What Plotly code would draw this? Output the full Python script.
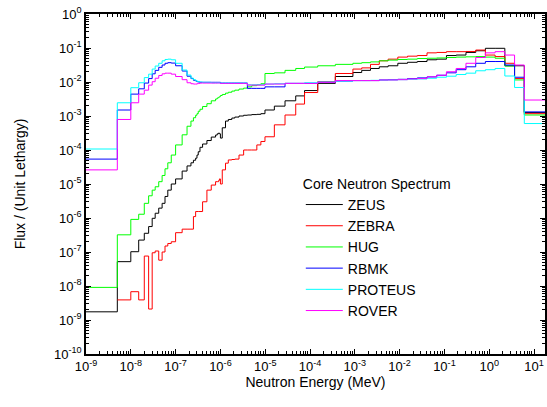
import plotly.graph_objects as go

# Energy group boundaries (MeV)
energy_edges = [1e-9, 5e-9, 1e-8, 1.5e-8, 2e-8, 2.5e-8, 3e-8, 3.5e-8, 4.2e-8, 5e-8,
                5.8e-8, 6.7e-8, 8e-8, 1e-7, 1.4e-7, 1.8e-7, 2.2e-7, 2.5e-7, 2.8e-7, 3e-7,
                3.2e-7, 3.5e-7, 4e-7, 5e-7, 6.25e-7, 7.8e-7, 8.5e-7, 9.1e-7, 9.5e-7, 1e-6,
                1.1e-6, 1.3e-6, 1.5e-6, 1.8e-6, 2.1e-6, 2.6e-6, 3.3e-6, 4e-6, 5e-6, 6.5e-6,
                8e-6, 9.877e-6, 1.6e-5, 2.77e-5, 4.8e-5, 7.55e-5, 1.487e-4, 3.673e-4, 9.069e-4, 1.425e-3,
                2.24e-3, 3.52e-3, 5.53e-3, 9.118e-3, 1.5e-2, 2.48e-2, 4.09e-2, 6.73e-2, 0.111, 0.183,
                0.3025, 0.5, 0.821, 1.353, 2.231, 3.679, 6.0655, 20.0]

zeus = [1.74e-9, 5.2e-8, 1.02e-7, 2.24e-7, 3.55e-7, 5.6e-7, 9.8e-7, 1.38e-6, 1.95e-6, 2.7e-6,
        4.3e-6, 6.6e-6, 1.0e-5, 1.41e-5, 2.4e-5, 3.4e-5, 4.2e-5, 5.0e-5, 5.75e-5, 7.1e-5,
        8.9e-5, 1.2e-4, 1.5e-4, 1.9e-4, 2.4e-4, 2.75e-4, 3.0e-4, 3.16e-4, 3.0e-4, 2.24e-4,
        4.5e-4, 7.1e-4, 7.9e-4, 8.7e-4, 9.3e-4, 1.0e-3, 1.05e-3, 1.07e-3, 1.1e-3, 1.12e-3,
        1.17e-3, 1.5e-3, 1.95e-3, 2.8e-3, 3.9e-3, 5.6e-3, 9.1e-3, 1.45e-2, 1.9e-2, 2.2e-2,
        2.5e-2, 2.8e-2, 3.0e-2, 3.55e-2, 3.8e-2, 4.0e-2, 4.5e-2, 4.7e-2, 6.0e-2, 6.2e-2,
        7.4e-2, 8.3e-2, 9.8e-2, 9.8e-2, 3.0e-2, 3.0e-2, 1.26e-3]

zebra = [None, 3.9e-9, 6.8e-9, 3.9e-9, 7.6e-8, 2.1e-9, 9.5e-8, 1.07e-7, 5.75e-8, 1.0e-7,
         1.5e-7, 1.78e-7, 2.0e-7, 3.7e-7, 4.7e-7, 4.7e-7, 4.7e-7, 1.1e-6, 1.55e-6, 1.55e-6,
         1.55e-6, 1.55e-6, 3.0e-6, 6.6e-6, 9.3e-6, 1.17e-5, 1.17e-5, 1.26e-5, 1.41e-5, 1.0e-5,
         2.6e-5, 4.1e-5, 5.1e-5, 5.25e-5, 5.4e-5, 7.1e-5, 1.0e-4, 1.0e-4, 1.0e-4, 1.41e-4,
         1.78e-4, 2.45e-4, 5.5e-4, 1.07e-3, 2.24e-3, 4.9e-3, 1.02e-2, 1.78e-2, 2.4e-2, 2.6e-2,
         3.3e-2, 4.2e-2, 4.7e-2, 5.4e-2, 5.75e-2, 6.0e-2, 7.2e-2, 7.4e-2, 7.8e-2, 7.8e-2,
         7.9e-2, 8.7e-2, 6.2e-2, 5.6e-2, 3.55e-2, 1.26e-2, 1.17e-3]

hug = [9.1e-9, 3.2e-7, 9.1e-7, 1.29e-6, 2.7e-6, 4.5e-6, 6.6e-6, 8.3e-6, 1.17e-5, 1.78e-5,
       2.8e-5, 4.2e-5, 7.1e-5, 1.41e-4, 2.8e-4, 5.0e-4, 7.1e-4, 8.9e-4, 1.05e-3, 1.17e-3,
       1.38e-3, 1.58e-3, 1.9e-3, 2.3e-3, 2.8e-3, 3.16e-3, 3.4e-3, 3.55e-3, 3.7e-3, 4.0e-3,
       4.3e-3, 4.7e-3, 5.0e-3, 5.4e-3, 5.75e-3, 6.2e-3, 6.6e-3, 7.2e-3, 7.8e-3, 8.3e-3,
       8.9e-3, 1.78e-2, 1.86e-2, 2.2e-2, 2.5e-2, 2.75e-2, 3.0e-2, 3.3e-2, 3.55e-2, 3.7e-2,
       3.9e-2, 4.2e-2, 4.4e-2, 4.6e-2, 4.7e-2, 4.9e-2, 5.0e-2, 5.1e-2, 5.25e-2, 5.4e-2,
       5.5e-2, 5.6e-2, 5.4e-2, 5.0e-2, 2.95e-2, 1.15e-2, 1.07e-3]

rbmk = [5.4e-5, 1.5e-3, 4.4e-3, 6.3e-3, 9.3e-3, 1.26e-2, 1.74e-2, 2.2e-2, 2.7e-2, 3.16e-2,
        3.55e-2, 3.7e-2, 3.6e-2, 3.0e-2, 2.1e-2, 1.48e-2, 1.26e-2, 1.12e-2, 1.07e-2, 1.02e-2,
        1.0e-2, 9.8e-3, 9.8e-3, 9.8e-3, 9.8e-3, 9.8e-3, 9.8e-3, 9.8e-3, 9.8e-3, 9.3e-3,
        9.3e-3, 9.3e-3, 9.3e-3, 9.3e-3, 9.3e-3, 9.3e-3, 9.3e-3, 6.5e-3, 6.5e-3, 6.5e-3,
        6.5e-3, 7.2e-3, 7.2e-3, 9.1e-3, 9.1e-3, 9.1e-3, 9.8e-3, 1.07e-2, 1.1e-2, 1.1e-2,
        1.1e-2, 1.15e-2, 1.17e-2, 1.2e-2, 1.26e-2, 1.32e-2, 1.41e-2, 1.58e-2, 1.86e-2, 2.3e-2,
        2.8e-2, 3.55e-2, 4.0e-2, 4.0e-2, 3.16e-2, 1.38e-2, 1.32e-3]

proteus = [1.07e-4, 2.45e-3, 6.8e-3, 9.5e-3, 1.35e-2, 1.7e-2, 2.4e-2, 2.95e-2, 3.55e-2, 4.2e-2,
           4.6e-2, 4.7e-2, 4.5e-2, 3.55e-2, 2.25e-2, 1.6e-2, 1.3e-2, 1.17e-2, 1.1e-2, 1.05e-2,
           1.02e-2, 1.0e-2, 9.8e-3, 9.8e-3, 9.5e-3, 9.5e-3, 9.5e-3, 9.5e-3, 9.5e-3, 9.3e-3,
           9.3e-3, 9.3e-3, 9.3e-3, 9.3e-3, 9.3e-3, 9.3e-3, 9.3e-3, 8.3e-3, 8.3e-3, 8.3e-3,
           8.3e-3, 8.7e-3, 8.9e-3, 9.1e-3, 9.1e-3, 9.5e-3, 1.0e-2, 1.07e-2, 1.1e-2, 1.1e-2,
           1.12e-2, 1.15e-2, 1.15e-2, 1.17e-2, 1.2e-2, 1.23e-2, 1.29e-2, 1.38e-2, 1.48e-2, 1.66e-2,
           1.82e-2, 2.14e-2, 2.3e-2, 2.5e-2, 1.5e-2, 6.9e-3, 6.0e-4]

rover = [2.6e-5, 7.9e-4, 2.45e-3, 4.4e-3, 5.75e-3, 8.1e-3, 1.02e-2, 1.29e-2, 1.55e-2, 1.74e-2,
         1.82e-2, 1.82e-2, 1.7e-2, 1.45e-2, 1.17e-2, 9.5e-3, 8.9e-3, 8.7e-3, 8.7e-3, 8.9e-3,
         9.1e-3, 9.3e-3, 9.3e-3, 9.3e-3, 9.3e-3, 9.3e-3, 9.3e-3, 9.3e-3, 9.3e-3, 9.1e-3,
         9.1e-3, 9.1e-3, 9.1e-3, 9.1e-3, 9.1e-3, 9.1e-3, 9.1e-3, 8.1e-3, 8.1e-3, 8.1e-3,
         8.1e-3, 8.7e-3, 8.7e-3, 9.1e-3, 9.1e-3, 9.1e-3, 9.8e-3, 1.1e-2, 1.1e-2, 1.1e-2,
         1.1e-2, 1.15e-2, 1.15e-2, 1.17e-2, 1.23e-2, 1.26e-2, 1.41e-2, 1.58e-2, 2.0e-2, 2.5e-2,
         3.55e-2, 5.25e-2, 7.2e-2, 7.8e-2, 6.2e-2, 3.16e-2, 2.95e-3]

series_names = ["ZEUS", "ZEBRA", "HUG", "RBMK", "PROTEUS", "ROVER"]
series_values = [zeus, zebra, hug, rbmk, proteus, rover]
series_colors = ["#000000", "#ff0000", "#00ff00", "#0000ff", "#00ffff", "#ff00ff"]

x_tick_exps = list(range(-9, 2))
y_tick_exps = list(range(-10, 1))

FONT = "Liberation Sans, Arial, sans-serif"

fig = go.Figure()
for name, vals, col in zip(series_names, series_values, series_colors):
    fig.add_trace(go.Scatter(
        x=energy_edges, y=vals + [vals[-1]], name=name, mode="lines",
        line=dict(color=col, width=1, shape="hv"),
    ))

axis_common = dict(
    type="log", showgrid=False, zeroline=False, showline=True, linecolor="black",
    linewidth=1.5, mirror="allticks", ticks="inside", ticklen=5, tickwidth=1,
    tickcolor="black", tickfont=dict(family=FONT, size=13, color="black"),
    automargin=False, ticklabeloverflow="allow",
    minor=dict(ticks="inside", ticklen=3, tickwidth=1, tickcolor="black",
               dtick="D1", showgrid=False),
)

fig.update_xaxes(
    **axis_common, range=[-9, 1.245],
    tickmode="array",
    tickvals=[10.0 ** e for e in x_tick_exps],
    ticktext=["10<sup>%d</sup>" % e for e in x_tick_exps],
    title=dict(text="Neutron Energy (MeV)", font=dict(family=FONT, size=14, color="black"),
               standoff=2),
)
fig.update_yaxes(
    **axis_common, range=[-10, 0],
    tickmode="array",
    tickvals=[10.0 ** e for e in y_tick_exps],
    ticktext=["10<sup>%d</sup>" % e for e in y_tick_exps],
    title=dict(text="Flux / (Unit Lethargy)", font=dict(family=FONT, size=14, color="black"),
               standoff=25),
)

fig.update_layout(
    width=547, height=407,
    margin=dict(l=86, r=2, t=14, b=53),
    plot_bgcolor="white", paper_bgcolor="white",
    font=dict(family=FONT, size=14, color="black"),
    legend=dict(
        title=dict(text="Core Neutron Spectrum", font=dict(family=FONT, size=14)),
        x=0.468, y=0.539, xanchor="left", yanchor="top",
        bgcolor="rgba(0,0,0,0)", borderwidth=0, itemwidth=37,
        font=dict(family=FONT, size=14), tracegroupgap=0,
    ),
    showlegend=True,
)

# remove the default 8px page margin so the figure sits at the window's corner
fig.write_html("out.html", config={"displayModeBar": False},
               post_script="document.body.style.margin='0px';")
